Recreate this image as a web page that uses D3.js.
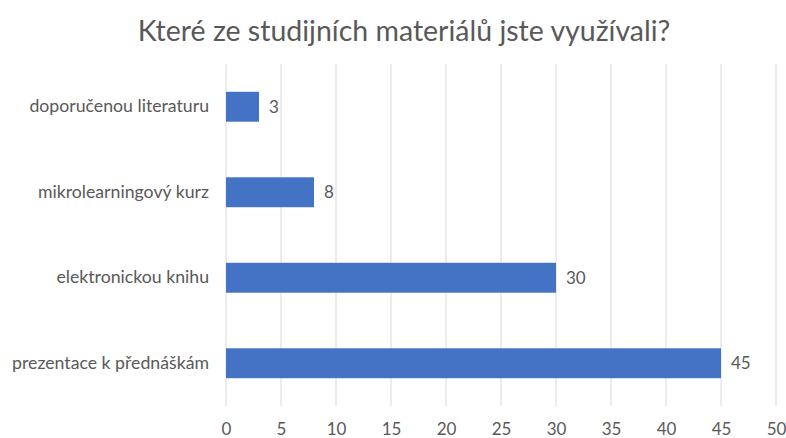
<!DOCTYPE html>
<html>
<head>
<meta charset="utf-8">
<script src="https://cdn.jsdelivr.net/npm/d3@7"></script>
<style>
	body { margin: 0; background: #fff; }
	text { font-family: Lato, "Open Sans", sans-serif; fill: #595959; }
</style>
</head>
<body>
<svg></svg>
<script>
const svgWidth = 786;
const svgHeight = 438;
const margin = {top: 64, right: 10, bottom: 32, left: 226};

const categories = ["doporučenou literaturu", "mikrolearningový kurz", "elektronickou knihu", "prezentace k přednáškám"];
const values = [3, 8, 30, 45];
const xTicks = [0, 5, 10, 15, 20, 25, 30, 35, 40, 45, 50];
const title = "Které ze studijních materiálů jste využívali?";

const data = categories.map((c, i) => ({name: c, value: values[i]}));

const svg = d3.select("svg")
				.attr("width", svgWidth)
				.attr("height", svgHeight);

let xScale = d3.scaleLinear()
				.domain([0, 50])
				.range([margin.left, 776]);
let yScale = d3.scaleBand()
				.domain(categories)
				.range([margin.top, 406])
				.paddingInner(0.65)
				.paddingOuter(0.325);

// Gridlines
svg
	.append("g")
	.selectAll("line")
	.data(xTicks)
	.enter()
	.append("line")
		.attr("x1", d => xScale(d))
		.attr("x2", d => xScale(d))
		.attr("y1", margin.top)
		.attr("y2", 406)
		.attr("stroke", "#d9d9d9")
		.attr("stroke-width", 1);

// X axis labels
let xAxis = d3.axisBottom(xScale)
				.tickValues(xTicks)
				.tickSize(0)
				.tickPadding(0);
let gx = svg
	.append("g")
	.attr("transform", "translate(0, 423)")
	.call(xAxis);
gx.select(".domain").remove();
gx.selectAll("text")
	.attr("dy", "0.71em")
	.attr("font-size", "17px")
	.style("fill", "#595959");

// Y axis labels
let yAxis = d3.axisLeft(yScale)
				.tickSize(0)
				.tickPadding(17);
let gy = svg
	.append("g")
	.attr("transform", `translate(${margin.left}, 0)`)
	.call(yAxis);
gy.select(".domain").remove();
gy.selectAll("text")
	.attr("font-size", "17.7px")
	.style("fill", "#595959");

// Bars
svg
	.selectAll("rect.bar")
	.data(data)
	.enter()
	.append("rect")
		.attr("class", "bar")
		.attr("x", xScale(0))
		.attr("y", d => yScale(d.name))
		.attr("width", d => xScale(d.value) - xScale(0))
		.attr("height", yScale.bandwidth())
		.attr("fill", "#4472c4");

// Value labels
svg
	.selectAll("text.val")
	.data(data)
	.enter()
	.append("text")
		.attr("class", "val")
		.text(d => d.value)
		.attr("x", d => xScale(d.value) + 10)
		.attr("y", d => yScale(d.name) + yScale.bandwidth() / 2)
		.attr("dy", "0.35em")
		.attr("font-size", "17px");

// Title
svg
	.append("text")
	.text(title)
	.attr("x", 404)
	.attr("y", 41)
	.attr("font-size", "28.5px")
	.attr("text-anchor", "middle");
</script>
</body>
</html>
